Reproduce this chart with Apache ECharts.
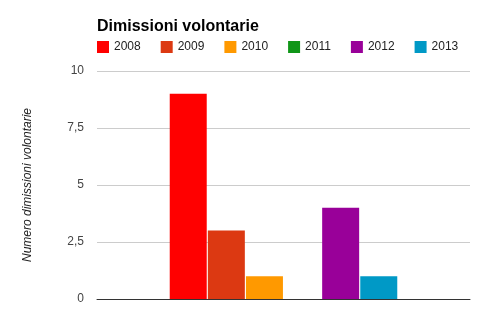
<!DOCTYPE html>
<html><head><meta charset="utf-8">
<script src="https://cdn.jsdelivr.net/npm/echarts@6/dist/echarts.min.js"></script>
<style>html,body{margin:0;padding:0;background:#fff}#c{width:496px;height:325px}</style>
</head><body><div id="c"></div>
<script>
const categories = [''];
const seriesNames = ['2008', '2009', '2010', '2011', '2012', '2013'];
const seriesValues = [[9], [3], [1], [0], [4], [1]];
const colors = ['#ff0000', '#dc3912', '#ff9900', '#109618', '#990099', '#0099c6'];
const yTicks = [0, 2.5, 5, 7.5, 10];

const chart = echarts.init(document.getElementById('c'), null, {renderer: 'canvas'});
const font = 'Liberation Sans, Arial, sans-serif';
chart.setOption({
  animation: false,
  textStyle: {fontFamily: font},
  title: {
    text: 'Dimissioni volontarie', left: 97, top: 19, padding: 0,
    textStyle: {fontFamily: font, fontSize: 16, fontWeight: 'bold', color: '#000'}
  },
  legend: {
    left: 97, top: 41, padding: 0, itemWidth: 12, itemHeight: 12, itemGap: 20, icon: 'rect',
    textStyle: {fontFamily: font, fontSize: 12, color: '#222'},
    data: seriesNames
  },
  grid: {left: 97, right: 26, top: 71, bottom: 26, containLabel: false},
  xAxis: {
    type: 'category', data: categories,
    axisLine: {lineStyle: {color: '#333', width: 1}},
    axisTick: {show: false}, axisLabel: {show: false}
  },
  yAxis: {
    type: 'value', min: 0, max: 10, interval: 2.5,
    name: 'Numero dimissioni volontarie', nameLocation: 'middle', nameGap: 63,
    nameTextStyle: {fontFamily: font, fontSize: 12, fontStyle: 'italic', color: '#222'},
    axisLine: {show: false}, axisTick: {show: false},
    axisLabel: {
      fontFamily: font, fontSize: 12, color: '#444', margin: 13,
      formatter: v => yTicks.includes(v) ? String(v).replace('.', ',') : ''
    },
    splitLine: {lineStyle: {color: '#cccccc', width: 1}}
  },
  series: seriesNames.map((n, i) => ({
    name: n, type: 'bar', data: seriesValues[i],
    itemStyle: {color: colors[i]},
    barGap: '3%', barCategoryGap: '39%'
  }))
});
</script></body></html>
